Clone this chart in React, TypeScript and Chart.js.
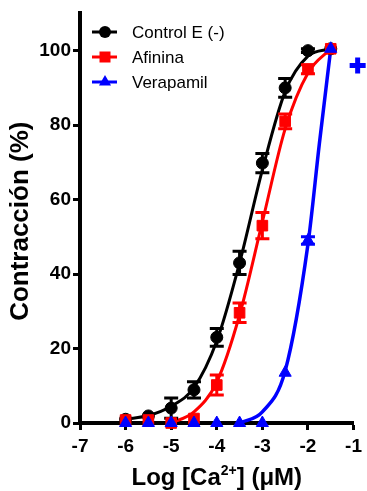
import React, { useEffect, useRef } from 'react';
import { Chart, registerables } from 'chart.js';

Chart.register(...registerables);

// ---- data ----
const doses = [-6, -5.5, -5, -4.5, -4, -3.5, -3, -2.5, -2, -1.5];
const controlMean = [1, 1.9, 4, 8.9, 23, 43, 69.8, 90, 100, 100.5];
const controlErr = [0, 0, 2.7, 2.2, 2.4, 3.1, 2.6, 2.5, 0.5, 0];
const afininaMean = [0.8, 0.8, 0, 1.2, 10.2, 29.6, 53, 81, 95, 100.5];
const afininaErr = [0, 0, 0, 0, 2.7, 2.6, 3.5, 2, 1.2, 0];
const verapamilMean = [0, 0, 0, 0, 0, 0, 0, 13.5, 49, 100.5];
const verapamilErr = [0, 0, 0, 0, 0, 0, 0, 0, 1, 0];

// fitted curves
const controlCurveX = [-6, -5.5, -5, -4.5, -4, -3.5, -3, -2.5, -2, -1.5];
const controlCurveY = [1, 2, 4.5, 9.5, 22, 43, 68, 89, 98.5, 100.5];
const afininaCurveX = [-5, -4.5, -4, -3.5, -3, -2.5, -2, -1.5];
const afininaCurveY = [0, 3, 11, 29, 54, 79, 94, 100.5];
const verapamilCurveX = [-3.5, -3, -2.5, -2, -1.75, -1.5];
const verapamilCurveY = [0, 3, 14, 48, 75, 100.5];

const extraX = [-0.91];
const extraY = [96];

const seriesNames = ['Control E (-)', 'Afinina', 'Verapamil'];
const xTicks = [-7, -6, -5, -4, -3, -2, -1];
const yTicks = [0, 20, 40, 60, 80, 100];

const BLACK = '#000000';
const RED = '#ff0000';
const BLUE = '#0000ff';
const FONT = '"Liberation Sans", Arial, sans-serif';

const pts = (xs: number[], ys: number[]) => xs.map((x, i) => ({ x, y: ys[i] }));

function drawMarker(ctx: CanvasRenderingContext2D, style: string, x: number, y: number, color: string) {
  ctx.save();
  ctx.fillStyle = color;
  ctx.beginPath();
  if (style === 'circle') {
    ctx.arc(x, y, 6, 0, Math.PI * 2);
  } else if (style === 'rect') {
    ctx.rect(x - 5.5, y - 5.5, 11, 11);
  } else {
    const r = 7;
    ctx.moveTo(x, y - r);
    ctx.lineTo(x + r * 0.866, y + r * 0.5);
    ctx.lineTo(x - r * 0.866, y + r * 0.5);
    ctx.closePath();
  }
  ctx.fill();
  ctx.restore();
}

const errorBarPlugin = {
  id: 'errorBars',
  beforeDatasetDraw(chart: any, args: any) {
    const ds = chart.data.datasets[args.index];
    if (!ds.errors) return;
    const meta = chart.getDatasetMeta(args.index);
    const ctx = chart.ctx;
    const ys = chart.scales.y;
    ctx.save();
    ctx.strokeStyle = ds.borderColor;
    ctx.lineWidth = 3;
    meta.data.forEach((el: any, i: number) => {
      const e = ds.errors[i];
      if (!e) return;
      const v = ds.data[i].y;
      const top = ys.getPixelForValue(v + e);
      const bot = ys.getPixelForValue(v - e);
      ctx.beginPath();
      ctx.moveTo(el.x, top);
      ctx.lineTo(el.x, bot);
      ctx.moveTo(el.x - 7, top);
      ctx.lineTo(el.x + 7, top);
      ctx.moveTo(el.x - 7, bot);
      ctx.lineTo(el.x + 7, bot);
      ctx.stroke();
    });
    ctx.restore();
  },
};

const decorPlugin = {
  id: 'decor',
  afterDraw(chart: any) {
    const ctx = chart.ctx as CanvasRenderingContext2D;
    const area = chart.chartArea;
    // legend
    const styles = ['circle', 'rect', 'triangle'];
    const colors = [BLACK, RED, BLUE];
    const rows = [32, 57, 82];
    ctx.save();
    rows.forEach((y, i) => {
      ctx.strokeStyle = colors[i];
      ctx.lineWidth = 3;
      ctx.beginPath();
      ctx.moveTo(92, y);
      ctx.lineTo(117, y);
      ctx.stroke();
      drawMarker(ctx, styles[i], 105, y, colors[i]);
      ctx.fillStyle = BLACK;
      ctx.font = `17px ${FONT}`;
      ctx.textAlign = 'left';
      ctx.textBaseline = 'middle';
      ctx.fillText(seriesNames[i], 132, y + 1);
    });
    // y title
    ctx.save();
    ctx.translate(21, (area.top + area.bottom) / 2 + 3);
    ctx.rotate(-Math.PI / 2);
    ctx.font = `bold 26px ${FONT}`;
    ctx.textAlign = 'center';
    ctx.textBaseline = 'middle';
    ctx.fillStyle = BLACK;
    ctx.fillText('Contracción (%)', 0, 0);
    ctx.restore();
    // x title with superscript
    const big = `bold 24px ${FONT}`;
    const small = `bold 14px ${FONT}`;
    const p1 = 'Log [Ca';
    const sup = '2+';
    const p2 = '] (μM)';
    ctx.font = big;
    const w1 = ctx.measureText(p1).width;
    const w3 = ctx.measureText(p2).width;
    ctx.font = small;
    const w2 = ctx.measureText(sup).width;
    const total = w1 + w2 + w3;
    let x = (area.left + area.right) / 2 - total / 2;
    const base = 485;
    ctx.fillStyle = BLACK;
    ctx.textAlign = 'left';
    ctx.textBaseline = 'alphabetic';
    ctx.font = big;
    ctx.fillText(p1, x, base);
    x += w1;
    ctx.font = small;
    ctx.fillText(sup, x, base - 10);
    x += w2;
    ctx.font = big;
    ctx.fillText(p2, x, base);
    ctx.restore();
  },
};

export default function App() {
  const ref = useRef<HTMLCanvasElement | null>(null);
  useEffect(() => {
    if (!ref.current) return;
    const common = { showLine: false, pointBorderWidth: 1 };
    const chart = new Chart(ref.current, {
      type: 'scatter',
      data: {
        datasets: [
          {
            label: 'Verapamil',
            data: pts(doses, verapamilMean),
            errors: verapamilErr,
            borderColor: BLUE,
            backgroundColor: BLUE,
            pointStyle: 'triangle',
            pointRadius: 7,
            order: 0,
            clip: false,
            ...common,
          } as any,
          {
            label: 'Afinina',
            data: pts(doses, afininaMean),
            errors: afininaErr,
            borderColor: RED,
            backgroundColor: RED,
            pointStyle: 'rect',
            pointRadius: 7.5,
            order: 1,
            clip: false,
            ...common,
          } as any,
          {
            label: 'Control E (-)',
            data: pts(doses, controlMean),
            errors: controlErr,
            borderColor: BLACK,
            backgroundColor: BLACK,
            pointStyle: 'circle',
            pointRadius: 6,
            order: 2,
            clip: false,
            ...common,
          } as any,
          {
            label: 'Control fit',
            data: pts(controlCurveX, controlCurveY),
            showLine: true,
            borderColor: BLACK,
            borderWidth: 3,
            pointRadius: 0,
            cubicInterpolationMode: 'monotone',
            order: 3,
            clip: false,
          } as any,
          {
            label: 'Afinina fit',
            data: pts(afininaCurveX, afininaCurveY),
            showLine: true,
            borderColor: RED,
            borderWidth: 3,
            pointRadius: 0,
            cubicInterpolationMode: 'monotone',
            order: 4,
            clip: false,
          } as any,
          {
            label: 'Verapamil fit',
            data: pts(verapamilCurveX, verapamilCurveY),
            showLine: true,
            borderColor: BLUE,
            borderWidth: 3.5,
            pointRadius: 0,
            cubicInterpolationMode: 'monotone',
            order: 5,
            clip: false,
          } as any,
          {
            label: 'extra',
            data: pts(extraX, extraY),
            borderColor: BLUE,
            backgroundColor: BLUE,
            pointStyle: 'cross',
            pointRadius: 8,
            pointBorderWidth: 5,
            showLine: false,
            order: 0,
            clip: false,
          } as any,
        ],
      },
      options: {
        animation: false,
        responsive: false,
        layout: { padding: { top: 13, right: 12, left: 0, bottom: 0 } },
        plugins: { legend: { display: false }, tooltip: { enabled: false } },
        scales: {
          x: {
            type: 'linear',
            min: -7,
            max: -1,
            afterBuildTicks: (s: any) => {
              s.ticks = xTicks.map((v) => ({ value: v }));
            },
            afterFit: (s: any) => {
              s.height = 68;
            },
            ticks: {
              color: BLACK,
              font: { family: FONT, size: 19, weight: 'bold' },
              padding: 5,
              maxRotation: 0,
              callback: (v: any) => String(v),
            },
            grid: {
              drawOnChartArea: false,
              drawTicks: true,
              tickLength: 7,
              tickWidth: 3,
              tickColor: BLACK,
            },
            border: { display: true, color: BLACK, width: 4 },
          },
          y: {
            type: 'linear',
            min: 0,
            max: 110,
            afterBuildTicks: (s: any) => {
              s.ticks = yTicks.map((v) => ({ value: v }));
            },
            afterFit: (s: any) => {
              s.width = 80;
            },
            ticks: {
              color: BLACK,
              font: { family: FONT, size: 19, weight: 'bold' },
              padding: 2,
              callback: (v: any) => String(v),
            },
            grid: {
              drawOnChartArea: false,
              drawTicks: true,
              tickLength: 7,
              tickWidth: 3,
              tickColor: BLACK,
            },
            border: { display: true, color: BLACK, width: 4 },
          },
        },
      },
      plugins: [errorBarPlugin, decorPlugin],
    });
    return () => chart.destroy();
  }, []);
  return (
    <div style={{ position: 'fixed', left: 0, top: 0, width: 367, height: 491, background: '#fff' }}>
      <canvas ref={ref} width={367} height={491} />
    </div>
  );
}
